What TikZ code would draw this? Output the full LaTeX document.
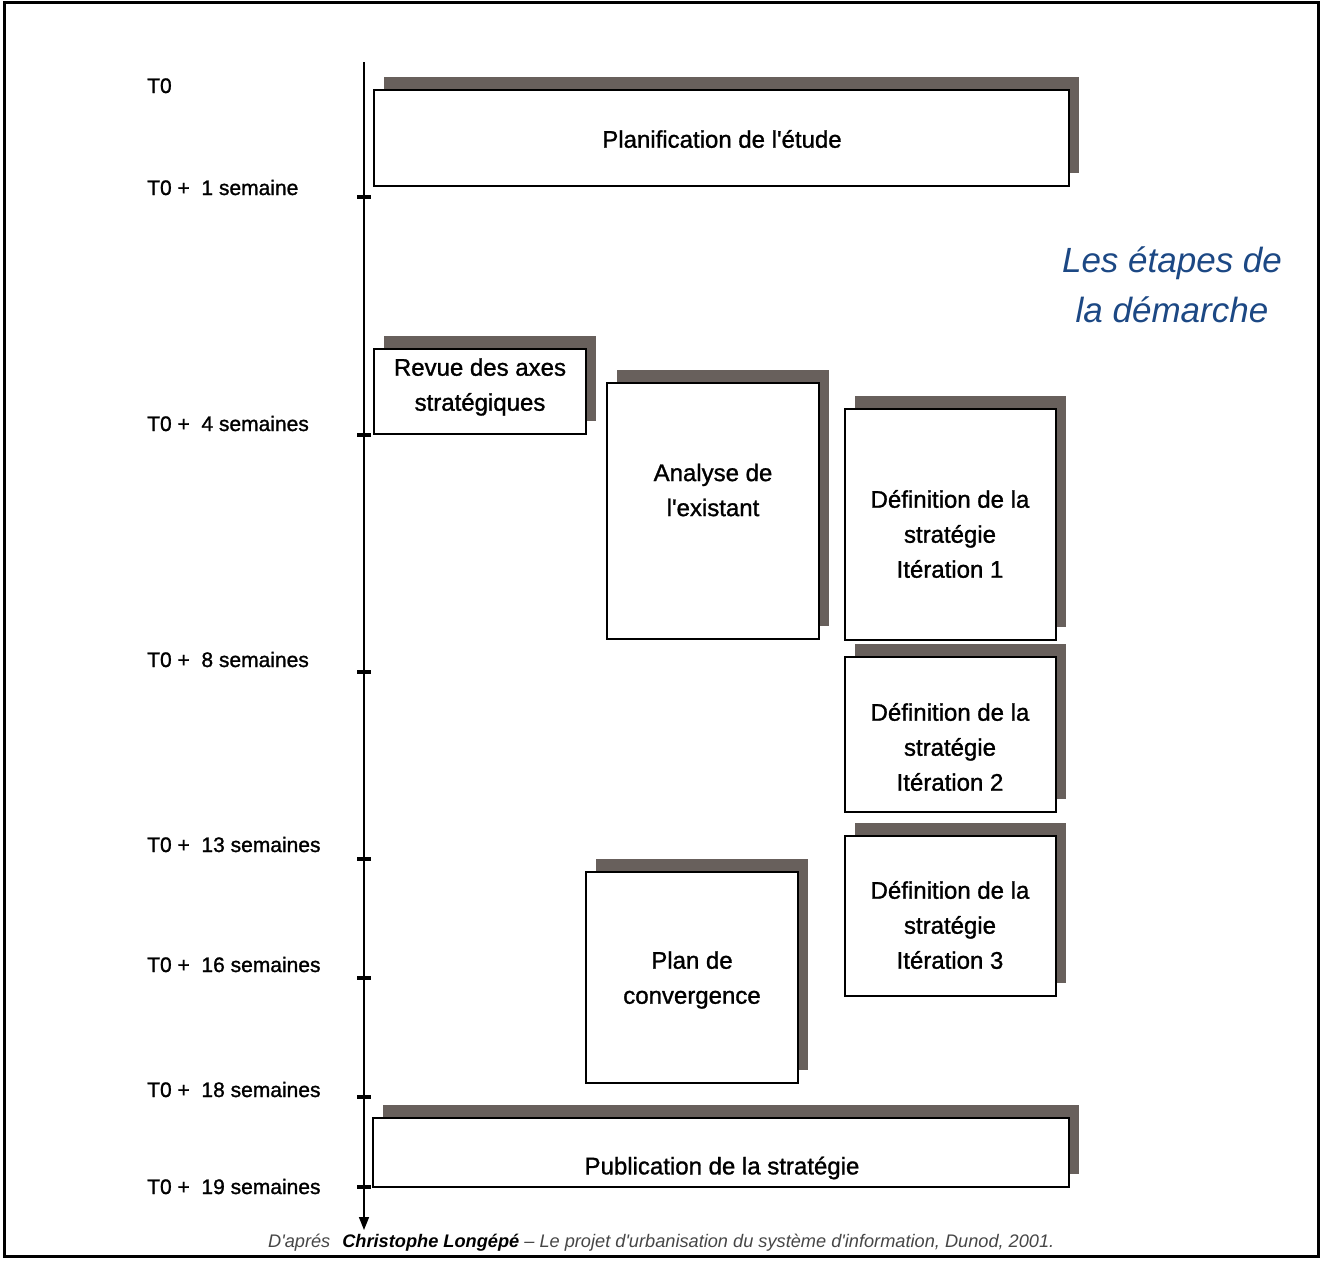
\documentclass[tikz,border=0pt]{standalone}
\usepackage{fontspec}
\setmainfont{Liberation Sans}[Ligatures=TeXOff]
\newfontfamily\grasfont{Liberation Sans}[Ligatures=TeXOff, FakeBold=1.2]
\usetikzlibrary{arrows.meta,shadows}

\definecolor{ombre}{RGB}{104,96,92}
\definecolor{titrebleu}{RGB}{28,72,132}
\definecolor{gristexte}{RGB}{70,70,70}

\tikzset{
  etape/.style={draw=black, line width=1.5pt, fill=white, inner sep=0pt,
    general shadow={fill=ombre, shadow xshift=10pt, shadow yshift=13pt}},
  texte/.style={align=center, inner sep=0pt, font=\grasfont\fontsize{24}{35}\selectfont},
  repere/.style={anchor=base west, inner sep=0pt, font=\grasfont\fontsize{21}{25}\selectfont}
}

\begin{document}
\begin{tikzpicture}[x=1pt,y=-1pt,>={Triangle[width=10pt,length=13pt]}]
	\useasboundingbox (0,0) rectangle (1321,1263);
	\draw[line width=3pt] (4,3) rectangle (1318,1256);

	% axe du temps
	\coordinate (haut) at (364,62);
	\coordinate (bas)  at (364,1230);
	\draw[->, line width=1.5pt] (haut) -- (bas);
	\foreach \y in {197,435,672,859,978,1097,1187}
		\draw[line width=4pt] (357,\y) -- (371,\y);

	\node[repere] (t0) at (147,93) {T0};
	\foreach \y/\n/\s in {195/1/semaine, 431/4/semaines, 667/8/semaines,
	                      852/13/semaines, 972/16/semaines, 1097/18/semaines,
	                      1194/19/semaines}
		\node[repere] (t\n) at (147,\y) {T0 + \ \n\ \s};

	% etapes
	\node[etape, minimum width=695pt, minimum height=96pt]  (planif)  at (721.5,138)  {};
	\node[texte] (planifT)  at (722,139)  {Planification de l'étude};

	\node[etape, minimum width=212pt, minimum height=85pt]  (revue)   at (480,391.5)  {};
	\node[texte] (revueT)   at (480,387)  {Revue des axes\\stratégiques};

	\node[etape, minimum width=212pt, minimum height=256pt] (analyse) at (713,511)    {};
	\node[texte] (analyseT) at (713,490)  {Analyse de\\l'existant};

	\node[etape, minimum width=211pt, minimum height=231pt] (def1)    at (950.5,524.5) {};
	\node[texte] (def1T)    at (950,534)  {Définition de la\\stratégie\\Itération 1};

	\node[etape, minimum width=211pt, minimum height=155pt] (def2)    at (950.5,734.5) {};
	\node[texte] (def2T)    at (950,747)  {Définition de la\\stratégie\\Itération 2};

	\node[etape, minimum width=211pt, minimum height=160pt] (def3)    at (950.5,916)  {};
	\node[texte] (def3T)    at (950,925)  {Définition de la\\stratégie\\Itération 3};

	\node[etape, minimum width=212pt, minimum height=211pt] (plan)    at (692,977.5)  {};
	\node[texte] (planT)    at (692,980)  {Plan de\\convergence};

	\node[etape, minimum width=696pt, minimum height=69pt]  (publi)   at (721,1152.5) {};
	\node[texte] (publiT)   at (722,1168) {Publication de la stratégie};

	% titre et source
	\node[align=center, inner sep=0pt, text=titrebleu,
	      font=\fontsize{35}{50}\selectfont\itshape] (titre) at (1172,285) {Les étapes de\\la démarche};
	\node[anchor=base west, inner sep=0pt, text=gristexte,
	      font=\fontsize{18.2}{22}\selectfont\itshape] (source) at (268,1247)
	      {D'aprés\hspace{12pt}\textcolor{black}{\textbf{Christophe Longépé}} – Le projet d'urbanisation du système d'information, Dunod, 2001.};
\end{tikzpicture}
\end{document}
